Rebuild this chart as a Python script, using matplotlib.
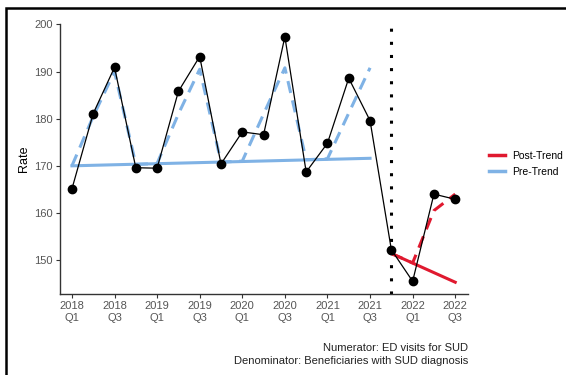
import numpy as np
from matplotlib import pyplot as plt
from matplotlib.lines import Line2D
from matplotlib.patches import Rectangle

plt.rcParams["font.family"] = ["Liberation Sans", "DejaVu Sans"]

# quarters 2018 Q1 .. 2022 Q3
quarters = list(range(19))
tick_labels = ["2018\nQ1", "2018\nQ3", "2019\nQ1", "2019\nQ3", "2020\nQ1",
               "2020\nQ3", "2021\nQ1", "2021\nQ3", "2022\nQ1", "2022\nQ3"]

rate = [165.1, 181.1, 190.9, 169.6, 169.5, 185.8, 193.2, 170.4, 177.2, 176.6,
        197.4, 168.7, 174.8, 188.6, 179.6, 152.2, 145.5, 164.0, 162.9]

pre_q = list(range(15))
pre_seasonal = [170.0, 180.5, 190.0, 170.3, 170.5, 181.0, 190.5, 170.8, 171.0,
                181.0, 190.8, 171.3, 171.5, 181.2, 190.8]
pre_trend = [170.0, 171.6]

post_q = [15, 16, 17, 18]
post_seasonal = [151.4, 149.4, 160.5, 164.0]
post_trend = [151.4, 145.3]

intervention = 15

blue = "#7fb2e5"
red = "#e0192f"

fig = plt.figure(figsize=(5.66, 3.75), dpi=100)
ax = fig.add_axes([60 / 566, 1 - 294 / 375, 408 / 566, 270 / 375])

ax.plot(pre_q, pre_seasonal, color=blue, lw=2.2, ls=(0, (4, 2.5)), zorder=2)
ax.plot([pre_q[0], pre_q[-1]], pre_trend, color=blue, lw=2.2, zorder=2)
ax.plot(post_q, post_seasonal, color=red, lw=2.2, ls=(0, (4, 2.5)), zorder=2)
ax.plot([post_q[0], post_q[-1]], post_trend, color=red, lw=2.2, zorder=2)
ax.plot(quarters, rate, color="black", lw=0.9, marker="o", ms=6, zorder=3)
ax.axvline(intervention, color="black", lw=2.2, ls=(0, (1, 3.3)), zorder=1)

ax.set_xlim(-0.56, 18.6)
ax.set_ylim(142.8, 200.1)
ax.set_xticks(quarters[::2])
ax.set_xticklabels(tick_labels)
ax.set_yticks([150, 160, 170, 180, 190, 200])

for s in ["top", "right"]:
    ax.spines[s].set_visible(False)
for s in ["left", "bottom"]:
    ax.spines[s].set_color("#333333")
    ax.spines[s].set_linewidth(1.0)
ax.tick_params(axis="both", colors="#333333", labelcolor="#555555",
               labelsize=8, length=3, width=0.8, pad=2)
ax.set_ylabel("Rate", fontsize=9, labelpad=3)

handles = [Line2D([], [], color=red, lw=2.5), Line2D([], [], color=blue, lw=2.5)]
fig.legend(handles, ["Post-Trend", "Pre-Trend"], loc="center left",
           bbox_to_anchor=(480 / 566, 1 - 164 / 375), frameon=False,
           fontsize=7.5, handlelength=1.5, handletextpad=0.7, labelspacing=0.6)

fig.text(468 / 566, 1 - 348 / 375, "Numerator: ED visits for SUD",
         ha="right", va="center", fontsize=8, color="#222222")
fig.text(468 / 566, 1 - 361 / 375, "Denominator: Beneficiaries with SUD diagnosis",
         ha="right", va="center", fontsize=8, color="#222222")

# outer frame (only left and top edges visible)
fig.patches.append(Rectangle((6 / 566, -0.1), 1.2, 1.1 - 8 / 375, fill=False,
                             edgecolor="black", lw=1.8, transform=fig.transFigure))

fig.savefig("out.png", dpi=100)
